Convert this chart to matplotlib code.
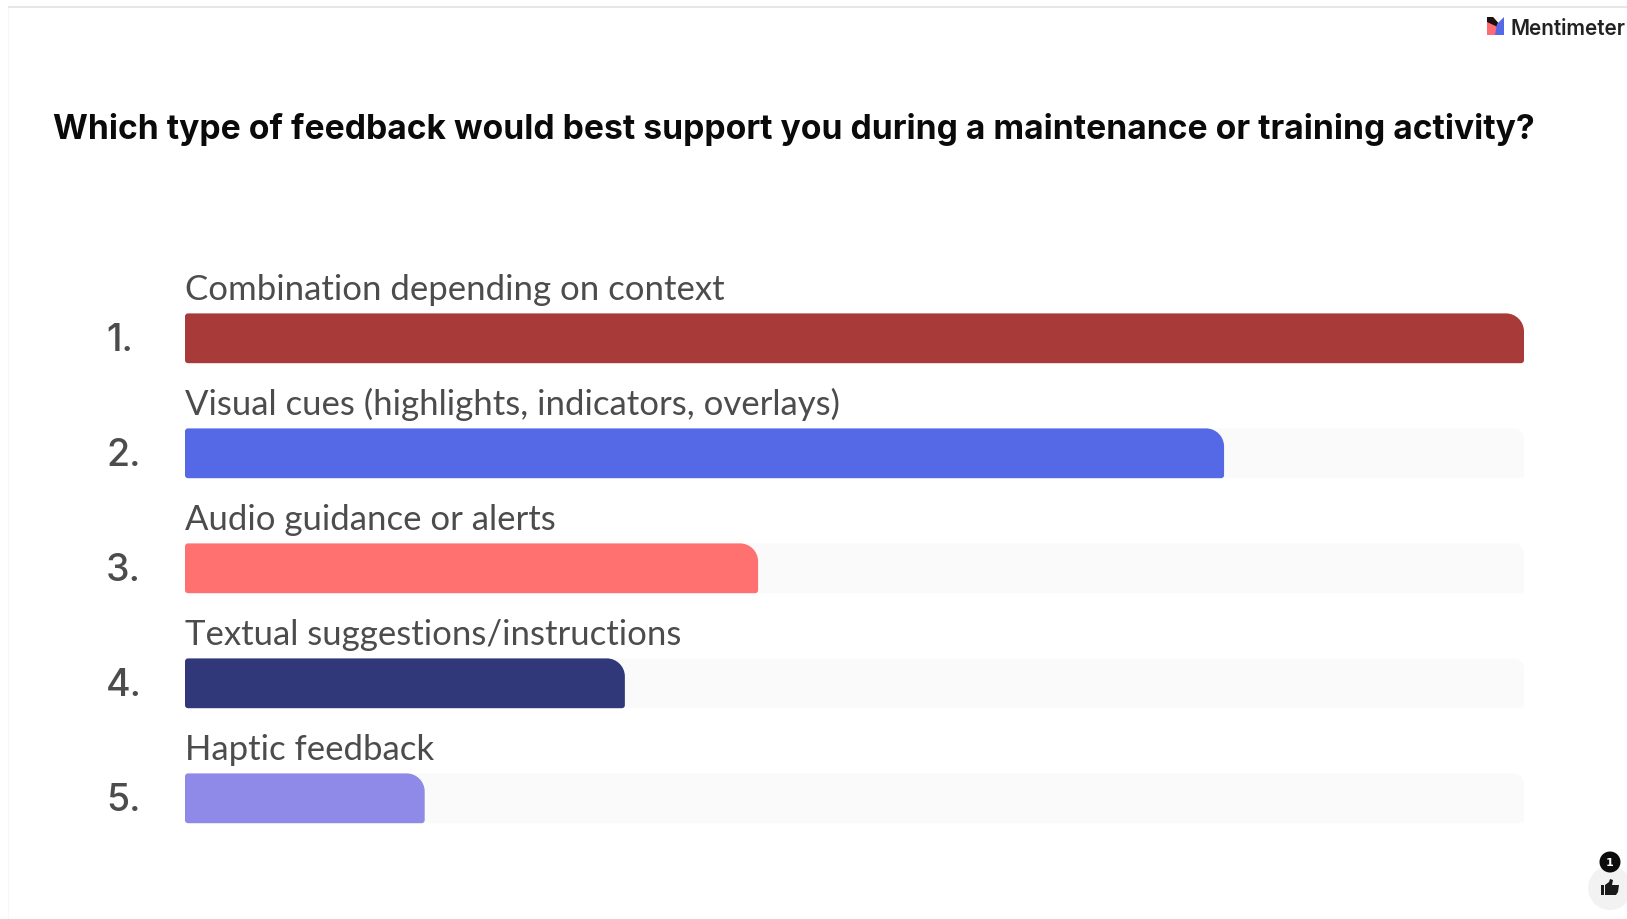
import matplotlib
matplotlib.use("Agg")
import matplotlib.pyplot as plt
from matplotlib.patches import Circle, PathPatch, Polygon, Rectangle
from matplotlib.path import Path

W, H = 1627, 920

title = "Which type of feedback would best support you during a maintenance or training activity?"
labels = [
    "Combination depending on context",
    "Visual cues (highlights, indicators, overlays)",
    "Audio guidance or alerts",
    "Textual suggestions/instructions",
    "Haptic feedback",
]
shares = [100.0, 77.6, 42.8, 32.85, 17.9]
colors = ["#a83b39", "#5569e6", "#ff7171", "#30387a", "#8f8ae8"]
track_color = "#fafafa"
text_color = "#4c4c4c"


def rounded_bar(ax, x0, x1, row, color, big=18, small=3, zorder=2):
    # pixel radii are turned into data units so the corners stay circular
    to_px = ax.transData.transform
    (px0, py0), (px1, py1) = to_px((0, 0)), to_px((1, 1))
    sx, sy = abs(px1 - px0), abs(py1 - py0)
    h = 0.2165
    top, bottom = row - h, row + h
    bx, by = big / sx, big / sy
    rx, ry = small / sx, small / sy
    k = 0.45
    verts = [
        (x0 + rx, bottom),
        (x1 - rx, bottom), (x1, bottom), (x1, bottom - ry),
        (x1, top + by), (x1, top + by * k), (x1 - bx * k, top), (x1 - bx, top),
        (x0 + rx, top), (x0, top), (x0, top + ry),
        (x0, bottom - ry), (x0, bottom), (x0 + rx, bottom),
        (x0 + rx, bottom),
    ]
    codes = [
        Path.MOVETO,
        Path.LINETO, Path.CURVE3, Path.CURVE3,
        Path.LINETO, Path.CURVE4, Path.CURVE4, Path.CURVE4,
        Path.LINETO, Path.CURVE3, Path.CURVE3,
        Path.LINETO, Path.CURVE3, Path.CURVE3,
        Path.CLOSEPOLY,
    ]
    ax.add_patch(PathPatch(Path(verts, codes), facecolor=color, edgecolor="none", zorder=zorder))


fig = plt.figure(figsize=(W / 100, H / 100), dpi=100, facecolor="white")

# overlay in pixel coordinates for the page furniture
page = fig.add_axes([0, 0, 1, 1])
page.set_xlim(0, W)
page.set_ylim(H, 0)
page.axis("off")

page.add_patch(Rectangle((8, 7), W - 8, 2, facecolor="#e6e6e6", edgecolor="none"))
page.add_patch(Rectangle((8, 9), 1.2, H - 9, facecolor="#f7f7f7", edgecolor="none"))

page.text(53, 129, title, fontsize=24.2, fontweight="bold", family="Inter",
          color="#0a0a0a", va="center", ha="left")

# logo mark
page.add_patch(Polygon([(1487, 18), (1493, 18), (1502, 28), (1502, 36), (1487, 36)], facecolor="#ff6b73", edgecolor="none"))
page.add_patch(Polygon([(1487, 18), (1493, 18), (1501, 27), (1500, 29), (1487, 23)], facecolor="#1a1010", edgecolor="none"))
page.add_patch(Polygon([(1504, 18), (1504, 36), (1495, 36), (1497, 25)], facecolor="#5569e6", edgecolor="none"))
page.text(1511, 29, "Mentimeter", fontsize=14.9, family="Inter", fontweight="semibold",
          color="#222222", va="center", ha="left")

# reactions badge
page.add_patch(Circle((1610, 889), 22, facecolor="#f2f2f2", edgecolor="none"))
page.add_patch(Circle((1610, 863), 10.5, facecolor="#0c0c0c", edgecolor="none", zorder=3))
page.text(1610, 863.5, "1", fontsize=8, color="white", ha="center", va="center", fontweight="bold", zorder=4)
page.add_patch(Rectangle((1601, 886), 3, 10, facecolor="#1a1a1a", edgecolor="none", zorder=3))
page.add_patch(Polygon([(1605, 886), (1609, 883), (1610, 880), (1613, 881), (1612, 886), (1619, 886),
                        (1618, 893), (1616, 896), (1605, 896)], facecolor="#1a1a1a", edgecolor="none", zorder=3))

# bars: 0-100 across the track, one unit per row
left, right = 185, 1524
row_px = 115.0
first_center = 339.3
ax = fig.add_axes([left / W, 0, (right - left) / W, 1])
ax.set_xlim(0, 100)
ax.set_ylim((H - first_center) / row_px, -first_center / row_px)
ax.axis("off")
ax.patch.set_alpha(0)

for i, (label, share, color) in enumerate(zip(labels, shares, colors)):
    if share < 100:
        rounded_bar(ax, 0, 100, i, track_color, big=10, small=3, zorder=1)
    rounded_bar(ax, 0, share, i, color)
    ax.text(0, i - 0.345, label, fontsize=25, family="Lato", color=text_color,
            va="baseline", ha="left")
    ax.annotate(f"{i + 1}.", (0, i), xytext=(-79, -2), textcoords="offset pixels",
                fontsize=27, family="Inter", fontweight="medium", color=text_color,
                va="center", ha="left")

fig.savefig("out.png", dpi=100)
